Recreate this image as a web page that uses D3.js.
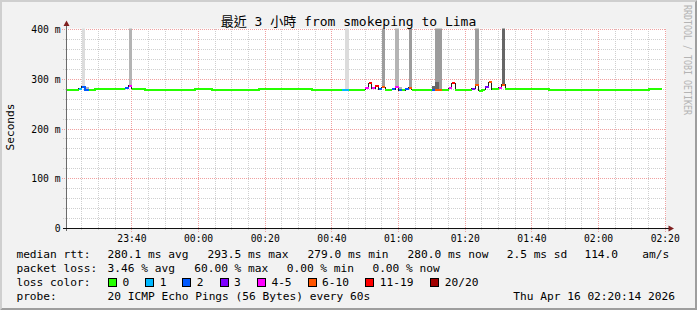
<!DOCTYPE html>
<html><head><meta charset="utf-8">
<script src="https://cdn.jsdelivr.net/npm/d3@7"></script>
<style>
html,body{margin:0;padding:0;background:#f2f2f2;}
svg{display:block;}
text{font-family:"DejaVu Sans Mono","Noto Sans CJK TC",monospace;fill:#000;}
</style></head><body>
<svg id="chart" width="697" height="310"></svg>
<script>
// ---------------- data ----------------
const titleText = "最近 3 小時 from smokeping to Lima";
const yAxisTitle = "Seconds";
const watermark = "RRDTOOL / TOBI OETIKER";
const startStamp = [2026, 3, 15, 23, 20, 14];
const endStamp = [2026, 3, 16, 2, 20, 14];

// median RTT as runs: start minute, median (ms), lost pings out of 20
const segStart = ["23:20","23:24","23:25","23:26","23:27","23:29","23:38","23:39","23:40","23:44",
  "23:59","00:04","00:18","00:34","00:43","00:45","00:50","00:51","00:52","00:53",
  "00:54","00:55","00:56","00:58","00:59","01:00","01:01","01:02","01:03","01:04",
  "01:10","01:11","01:13","01:15","01:16","01:17","01:22","01:23","01:24","01:25",
  "01:26","01:27","01:28","01:30","01:31","01:32","01:45","02:15"];
const segRtt = [279,281,285,278,279,281,283,287,281,278,
  281,278,281,279,279,279,283,292,282,286,
  280,284,278,280,283.5,278,278,280,283,279,
  279,278,279,282,292,279,281,289,277,279,
  283.5,293.5,280,282.5,289,281,279,280];
const segLoss = [0,1,2,2,0,0,2,4,0,0,
  0,0,0,0,1,0,4,12,4,12,
  2,7,0,2,4,2,0,2,7,0,
  2,7,0,4,12,0,3,7,0,0,
  3,7,0,4,7,0,0,0];
const segEnd = "02:19";

// smoke: start minute, length (min), low / high RTT (ms), pings in band
const smokeStart = ["23:25","23:26","23:39","00:44","00:55","00:59","01:00","01:03","01:10","01:11","01:11","01:23","01:31"];
const smokeMinutes = [1,1,1,1,1,1,1,1,1,2,1,1,1];
const smokeLow  = [286,279,287,281,285,285,280,284,281,280,280,289,289];
const smokeHigh = [1500,285,1500,1500,1500,1500,284,1500,287,1500,294,1500,1500];
const smokePings = [1,2,2,1,3,2,2,3,5,3,5,3,5];

const yTickValues = [0,100,200,300,400];
const yTickLabels = ["0","100 m","200 m","300 m","400 m"];

const lossBins = [0,1,2,3,5,10,19,20];
const lossLabels = ["0","1","2","3","4-5","6-10","11-19","20/20"];
const lossColors = ["#26ff00","#00b8ff","#0059ff","#7e00ff","#ff00ff","#ff5500","#ff0000","#a10000"];

const rowRtt = ["median rtt:","280.1 ms avg","293.5 ms max","279.0 ms min","280.0 ms now","2.5 ms sd","114.0","am/s"];
const rowLoss = ["packet loss:","3.46 % avg","60.00 % max","0.00 % min","0.00 % now"];
const rowColorLabel = "loss color:";
const rowProbe = ["probe:","20 ICMP Echo Pings (56 Bytes) every 60s","Thu Apr 16 02:20:14 2026"];

// ---------------- layout ----------------
const W = 697, H = 310;
const plot = {left:66, right:666, top:29.5, bottom:228.5};
const rowRttX = [16.4,107.6,207.6,307.6,407.6,506.7,584.4,642.2];
const rowLossX = [16.4,107.6,194.2,286.7,372.4];
const swatchX = [108,145.3,182.2,219.6,256.9,307.6,365.3,430.2];
const rowProbeX = [16.4,107.6,513.3];
const rowY = [258,272,286,300];

const svg = d3.select("#chart");
const parseClock = s => { const [h,m] = s.split(":").map(Number); return new Date(2026,3,h>=12?15:16,h,m,0); };
const t0 = new Date(...startStamp), t1 = new Date(...endStamp);
const x = d3.scaleTime().domain([t0,t1]).range([plot.left, plot.right]);
const y = d3.scaleLinear().domain([0,400]).range([plot.bottom, plot.top]);
const px = v => Math.floor(v) + 0.5;

// background + frame shading
svg.append("rect").attr("width",W).attr("height",H).attr("fill","#f2f2f2");
svg.append("path").attr("d",`M0,0H${W}L${W-2},2H2V${H-2}L0,${H}Z`).attr("fill","#cfcfcf");
svg.append("path").attr("d",`M${W},0V${H}H0L2,${H-2}H${W-2}V2Z`).attr("fill","#9e9e9e");

// canvas
svg.append("rect").attr("x",plot.left).attr("y",28.5).attr("width",plot.right-plot.left).attr("height",plot.bottom-28.5).attr("fill","#fff");

// grid
const gGrid = svg.append("g").attr("shape-rendering","crispEdges");
const minorT = d3.timeMinute.every(5).range(t0, t1).filter(d => d.getMinutes() % 20 !== 0);
const majorT = d3.timeMinute.every(20).range(t0, t1);
const minorY = d3.range(20, 400, 20).filter(v => v % 100 !== 0);
const majorY = yTickValues.filter(v => v > 0);
const minorCol = "#cfcfcf", majorCol = "#f0a0a0";
gGrid.selectAll(".vmin").data(minorT).join("line")
  .attr("x1",d=>px(x(d))).attr("x2",d=>px(x(d))).attr("y1",28.5).attr("y2",231)
  .attr("stroke",minorCol).attr("stroke-dasharray","1,1");
gGrid.selectAll(".hmin").data(minorY).join("line")
  .attr("x1",63).attr("x2",plot.right).attr("y1",d=>px(y(d))).attr("y2",d=>px(y(d)))
  .attr("stroke",minorCol).attr("stroke-dasharray","1,1");
gGrid.selectAll(".vmaj").data(majorT).join("line")
  .attr("x1",d=>px(x(d))).attr("x2",d=>px(x(d))).attr("y1",28.5).attr("y2",232)
  .attr("stroke",majorCol).attr("stroke-dasharray","1,1");
gGrid.selectAll(".hmaj").data(majorY).join("line")
  .attr("x1",62).attr("x2",plot.right).attr("y1",d=>px(y(d))).attr("y2",d=>px(y(d)))
  .attr("stroke",majorCol).attr("stroke-dasharray","1,1");

// clip
svg.append("clipPath").attr("id","clip").append("rect")
  .attr("x",plot.left+1).attr("y",plot.top-1).attr("width",plot.right-plot.left-1).attr("height",plot.bottom-plot.top+1);
const gData = svg.append("g").attr("clip-path","url(#clip)");

// smoke
const smokeShade = d3.scaleLinear().domain([1,2,3,5]).range(["#dcdcdc","#b4b4b4","#9c9c9c","#666666"]);
const smoke = smokeStart.map((s,i)=>({t:parseClock(s), t2:d3.timeMinute.offset(parseClock(s), smokeMinutes[i]),
  lo:smokeLow[i], hi:smokeHigh[i], n:smokePings[i]}));
gData.append("g").attr("shape-rendering","crispEdges").selectAll("rect").data(smoke).join("rect")
  .attr("x",d=>x(d.t)).attr("width",d=>x(d.t2)-x(d.t))
  .attr("y",d=>y(Math.min(d.hi,420))).attr("height",d=>y(d.lo)-y(Math.min(d.hi,420)))
  .attr("fill",d=>smokeShade(d.n));

// median segments
const segs = segStart.map((s,i)=>({
  t:parseClock(s), t2:parseClock(i<segStart.length-1?segStart[i+1]:segEnd),
  v:segRtt[i], cat:lossBins.findIndex(b=>segLoss[i]<=b)}));
const allPts = segs.flatMap(d=>[{t:d.t,v:d.v},{t:d.t2,v:d.v}]);
const line = d3.line().x(d=>x(d.t)).y(d=>y(d.v)).defined(d=>d.ok!==false);
gData.append("path").attr("d",line(allPts)).attr("fill","none").attr("stroke","#202020").attr("stroke-width",1)
  .attr("shape-rendering","crispEdges");
lossColors.forEach((c,ci)=>{
  const pts = segs.flatMap(d => d.cat===ci ? [{t:d.t,v:d.v},{t:d.t2,v:d.v}] : [{ok:false}]);
  gData.append("path").attr("d",line(pts)).attr("fill","none").attr("stroke",c).attr("stroke-width",2)
    .attr("stroke-linecap","butt").attr("shape-rendering","crispEdges");
});

// axes
const gAx = svg.append("g").attr("shape-rendering","crispEdges");
gAx.append("line").attr("x1",66.5).attr("x2",66.5).attr("y1",231).attr("y2",25).attr("stroke","#6a6a6a");
gAx.append("line").attr("x1",63).attr("x2",669).attr("y1",228.5).attr("y2",228.5).attr("stroke","#111");
svg.append("path").attr("d","M63.5,26L66.5,20.5L69.5,26Z").attr("fill","#7f1f1f");
svg.append("path").attr("d","M668.5,225.5L674,228.5L668.5,231.5Z").attr("fill","#7f1f1f");

// tick labels
svg.append("g").selectAll("text").data(yTickValues).join("text")
  .attr("x",60.5).attr("y",d=>y(d)+3.5).attr("text-anchor","end").attr("font-size","9.7px")
  .text((d,i)=>yTickLabels[i]);
svg.append("g").selectAll("text").data(majorT).join("text")
  .attr("x",d=>x(d)).attr("y",241.5).attr("text-anchor","middle").attr("font-size","9.7px")
  .text(d=>d3.timeFormat("%H:%M")(d));

// title, axis title, watermark
svg.append("text").attr("x",348.5).attr("y",26).attr("text-anchor","middle").attr("font-size","13px").text(titleText);
svg.append("text").attr("transform","translate(14,127) rotate(-90)").attr("text-anchor","middle")
  .attr("font-size","11.2px").text(yAxisTitle);
svg.append("text").attr("transform","translate(684,5) rotate(90) scale(1,1.35)")
  .attr("font-size","8.3px").style("fill","#b4b4b4").text(watermark);

// legend
const fs = "11.2px";
const gLeg = svg.append("g").attr("font-size",fs);
gLeg.selectAll(".r1").data(rowRtt).join("text").attr("x",(d,i)=>rowRttX[i]).attr("y",rowY[0]).text(d=>d);
gLeg.selectAll(".r2").data(rowLoss).join("text").attr("class","r2").attr("x",(d,i)=>rowLossX[i]).attr("y",rowY[1]).text(d=>d);
gLeg.append("text").attr("x",16.4).attr("y",rowY[2]).text(rowColorLabel);
gLeg.selectAll(".sw").data(lossColors).join("rect").attr("class","sw")
  .attr("x",(d,i)=>Math.round(swatchX[i])+0.5).attr("y",278.5).attr("width",8).attr("height",8)
  .attr("fill",d=>d).attr("stroke","#000").attr("shape-rendering","crispEdges");
gLeg.selectAll(".swl").data(lossLabels).join("text").attr("class","swl")
  .attr("x",(d,i)=>swatchX[i]+14.5).attr("y",rowY[2]).text(d=>d);
gLeg.selectAll(".r4").data(rowProbe).join("text").attr("class","r4").attr("x",(d,i)=>rowProbeX[i]).attr("y",rowY[3]).text(d=>d);
</script>
</body></html>
